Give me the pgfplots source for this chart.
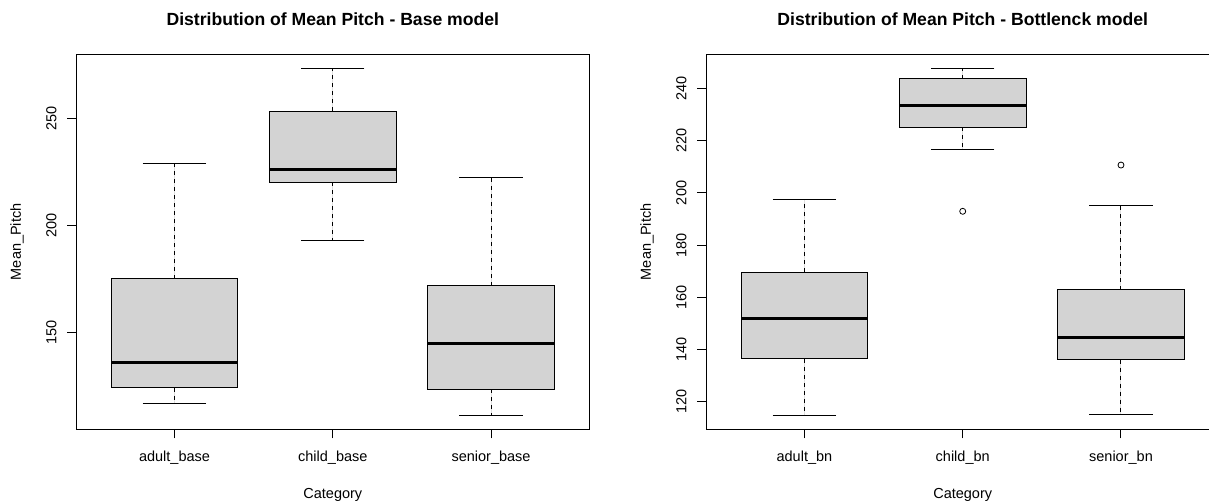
\documentclass[border=0pt]{standalone}
\usepackage{pgfplots}
\pgfplotsset{compat=1.18}
\usepgfplotslibrary{statistics}
\usepackage{fontspec}
\setmainfont{Liberation Sans}
\definecolor{boxgray}{HTML}{D3D3D3}
\newcommand{\lblfont}{\fontsize{14.5}{17}\selectfont}
\newcommand{\ttlfont}{\bfseries\fontsize{17.6}{21}\selectfont}

\pgfplotsset{
  rbox/.style={
    scale only axis, width=512.8pt, height=375pt,
    anchor=south west,
    xmin=0.38, xmax=3.62,
    axis line style={black, line width=1pt},
    tick style={black, line width=1pt},
    tick align=outside, major tick length=9pt,
    tick pos=left,
    xtick={1,2,3},
    /pgf/number format/assume math mode=true,
    tick label style={font=\lblfont, black},
    xticklabel style={anchor=base, yshift=-23.4pt},
    yticklabel style={xshift=-11pt, rotate=90, anchor=base},
    label style={font=\lblfont, black},
    xlabel style={at={(axis description cs:0.5,0)}, anchor=base, yshift=-69pt},
    ylabel style={at={([xshift=-55.5pt]axis description cs:0,0.5)}, anchor=base},
    title style={font=\ttlfont, at={(axis description cs:0.5,1)}, anchor=base, yshift=23pt},
    xlabel={Category}, ylabel={Mean\_Pitch},
    boxplot/draw direction=y,
    boxplot/box extend=0.8,
    boxplot/whisker extend=0.4,
    boxplot/every median/.style={black, line width=3pt},
    boxplot/draw/lower whisker/.code={%
      \draw[black, line width=1pt, dash pattern=on 4pt off 4pt]
        (boxplot cs:\pgfplotsboxplotvalue{lower quartile}) --
        (boxplot cs:\pgfplotsboxplotvalue{lower whisker});
      \draw[black, line width=1pt]
        (boxplot whisker cs:\pgfplotsboxplotvalue{lower whisker},0) --
        (boxplot whisker cs:\pgfplotsboxplotvalue{lower whisker},1);
    },
    boxplot/draw/upper whisker/.code={%
      \draw[black, line width=1pt, dash pattern=on 4pt off 4pt]
        (boxplot cs:\pgfplotsboxplotvalue{upper quartile}) --
        (boxplot cs:\pgfplotsboxplotvalue{upper whisker});
      \draw[black, line width=1pt]
        (boxplot whisker cs:\pgfplotsboxplotvalue{upper whisker},0) --
        (boxplot whisker cs:\pgfplotsboxplotvalue{upper whisker},1);
    },
  },
  rb/.style={draw=black, fill=boxgray, line width=1pt, solid,
    mark=o, mark size=3pt, mark options={black, line width=0.8pt, fill=none}},
}

\begin{document}
\begin{tikzpicture}
\useasboundingbox (0,0) rectangle (1209pt,501pt);

% Left panel: Base model
\begin{axis}[rbox,
  at={(76.4pt,71.7pt)},
  ymin=104.8, ymax=279.8,
  ytick={150,200,250},
  xticklabels={adult\_base, child\_base, senior\_base},
  title={Distribution of Mean Pitch - Base model},
]
\addplot[rb, boxplot prepared={draw position=1,
  lower whisker=116.9, lower quartile=124.2, median=135.9,
  upper quartile=175.0, upper whisker=229.0}] coordinates {};
\addplot[rb, boxplot prepared={draw position=2,
  lower whisker=192.8, lower quartile=220.0, median=226.0,
  upper quartile=253.3, upper whisker=273.3}] coordinates {};
\addplot[rb, boxplot prepared={draw position=3,
  lower whisker=111.3, lower quartile=123.4, median=144.9,
  upper quartile=171.9, upper whisker=222.2}] coordinates {};
\end{axis}

% Right panel: Bottleneck model
\begin{axis}[rbox,
  at={(706.3pt,71.7pt)},
  ymin=109.3, ymax=253.2,
  ytick={120,140,160,180,200,220,240},
  xticklabels={adult\_bn, child\_bn, senior\_bn},
  title={Distribution of Mean Pitch - Bottlenck model},
]
\addplot[rb, boxplot prepared={draw position=1,
  lower whisker=114.6, lower quartile=136.3, median=151.9,
  upper quartile=169.6, upper whisker=197.6}] coordinates {};
\addplot[rb, boxplot prepared={draw position=2,
  lower whisker=216.5, lower quartile=225.3, median=233.7,
  upper quartile=243.9, upper whisker=247.9}] coordinates {(2,192.95)};
\addplot[rb, boxplot prepared={draw position=3,
  lower whisker=115.0, lower quartile=136.0, median=144.5,
  upper quartile=162.9, upper whisker=195.3}] coordinates {(3,210.7)};
\end{axis}
\end{tikzpicture}
\end{document}
